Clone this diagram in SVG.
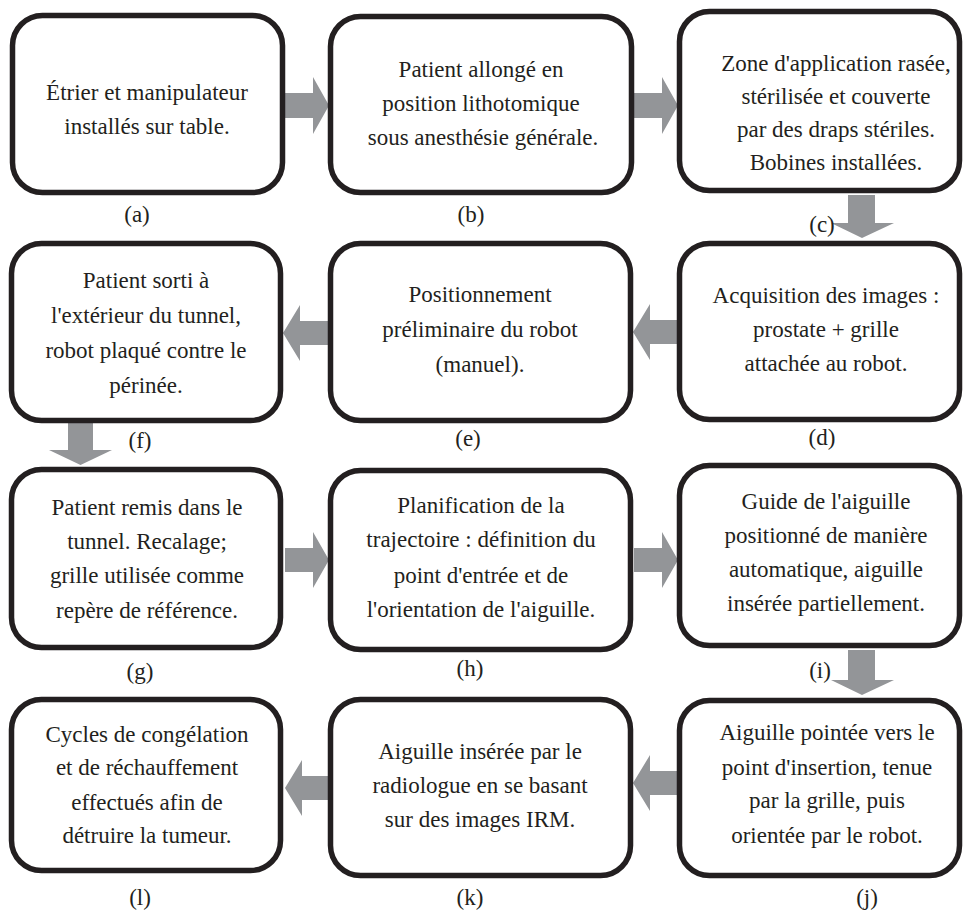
<svg xmlns="http://www.w3.org/2000/svg" width="964" height="913" viewBox="0 0 964 913">
<style>
.box{fill:#ffffff;stroke:#231f20;stroke-width:5.5}
.t{font-family:'Liberation Serif','Times New Roman',serif;font-size:23px;fill:#231f20;text-anchor:middle}
.arr{fill:#939598}
</style>
<rect width="964" height="913" fill="#ffffff"/>
<g id="connectors">
<polygon class="arr" points="285,93 313,93 313,77 329,105.5 313,134 313,118 285,118"/>
<polygon class="arr" points="634,93 662,93 662,77 678,105.5 662,134 662,118 634,118"/>
<polygon class="arr" points="848,195 875,195 875,223 894,223 862,238 831,223 848,223"/>
<polygon class="arr" points="677,320 650,320 650,304 633,332 650,360 650,344 677,344"/>
<polygon class="arr" points="328,321 300,321 300,305 283,333 300,361 300,345 328,345"/>
<polygon class="arr" points="68,423 93,423 93,450 112,450 80.5,465 49,450 68,450"/>
<polygon class="arr" points="285,548 313,548 313,532 329,560 313,588 313,572 285,572"/>
<polygon class="arr" points="634,548 662,548 662,532 678,560 662,588 662,572 634,572"/>
<polygon class="arr" points="848,650 875,650 875,680 894,680 862,695 831,680 848,680"/>
<polygon class="arr" points="677,771 650,771 650,755 633,783 650,811 650,795 677,795"/>
<polygon class="arr" points="330,776 302,776 302,760 285,788 302,816 302,800 330,800"/>
</g>
<g id="node-a">
<rect class="box" x="12.5" y="15.5" width="270" height="177" rx="30"/>
<text class="t" x="147" y="100">Étrier et manipulateur</text>
<text class="t" x="147" y="134">installés sur table.</text>
<text class="t" x="137" y="222">(a)</text>
</g>
<g id="node-b">
<rect class="box" x="330.5" y="16.5" width="301" height="176" rx="30"/>
<text class="t" x="481" y="77">Patient allongé en</text>
<text class="t" x="481" y="111">position lithotomique</text>
<text class="t" x="483" y="145">sous anesthésie générale.</text>
<text class="t" x="471" y="222">(b)</text>
</g>
<g id="node-c">
<rect class="box" x="679.5" y="11.5" width="280" height="179" rx="30"/>
<text class="t" x="836" y="71">Zone d'application rasée,</text>
<text class="t" x="836" y="104">stérilisée et couverte</text>
<text class="t" x="836" y="137">par des draps stériles.</text>
<text class="t" x="836" y="170">Bobines installées.</text>
<text class="t" x="822" y="232">(c)</text>
</g>
<g id="node-d">
<rect class="box" x="679.5" y="243.5" width="280" height="176" rx="30"/>
<text class="t" x="826" y="303">Acquisition des images :</text>
<text class="t" x="826" y="337">prostate + grille</text>
<text class="t" x="826" y="371">attachée au robot.</text>
<text class="t" x="822" y="445">(d)</text>
</g>
<g id="node-e">
<rect class="box" x="330.5" y="243.5" width="300" height="177" rx="30"/>
<text class="t" x="480" y="302">Positionnement</text>
<text class="t" x="480" y="337">préliminaire du robot</text>
<text class="t" x="480" y="372">(manuel).</text>
<text class="t" x="468" y="446">(e)</text>
</g>
<g id="node-f">
<rect class="box" x="11.5" y="243.5" width="269" height="177" rx="30"/>
<text class="t" x="146" y="288">Patient sorti à</text>
<text class="t" x="146" y="323">l'extérieur du tunnel,</text>
<text class="t" x="146" y="358">robot plaqué contre le</text>
<text class="t" x="146" y="393">périnée.</text>
<text class="t" x="140" y="448">(f)</text>
</g>
<g id="node-g">
<rect class="box" x="11.5" y="469.5" width="269" height="178" rx="30"/>
<text class="t" x="147" y="515">Patient remis dans le</text>
<text class="t" x="147" y="549">tunnel. Recalage;</text>
<text class="t" x="147" y="583">grille utilisée comme</text>
<text class="t" x="147" y="618">repère de référence.</text>
<text class="t" x="140" y="679">(g)</text>
</g>
<g id="node-h">
<rect class="box" x="330.5" y="470.5" width="300" height="179" rx="30"/>
<text class="t" x="481" y="513">Planification de la</text>
<text class="t" x="481" y="547">trajectoire : définition du</text>
<text class="t" x="481" y="583">point d'entrée et de</text>
<text class="t" x="481" y="617">l'orientation de l'aiguille.</text>
<text class="t" x="470" y="676">(h)</text>
</g>
<g id="node-i">
<rect class="box" x="679.5" y="465.5" width="280" height="180" rx="30"/>
<text class="t" x="826" y="509">Guide de l'aiguille</text>
<text class="t" x="826" y="543">positionné de manière</text>
<text class="t" x="826" y="577">automatique, aiguille</text>
<text class="t" x="826" y="611">insérée partiellement.</text>
<text class="t" x="820" y="678">(i)</text>
</g>
<g id="node-j">
<rect class="box" x="679.5" y="700.5" width="280" height="175" rx="30"/>
<text class="t" x="827" y="740">Aiguille pointée vers le</text>
<text class="t" x="827" y="775">point d'insertion, tenue</text>
<text class="t" x="827" y="808">par la grille, puis</text>
<text class="t" x="827" y="843">orientée par le robot.</text>
<text class="t" x="867" y="905">(j)</text>
</g>
<g id="node-k">
<rect class="box" x="330.5" y="699.5" width="300" height="176" rx="30"/>
<text class="t" x="480" y="759">Aiguille insérée par le</text>
<text class="t" x="480" y="793">radiologue en se basant</text>
<text class="t" x="480" y="827">sur des images IRM.</text>
<text class="t" x="470" y="905">(k)</text>
</g>
<g id="node-l">
<rect class="box" x="11.5" y="699.5" width="269" height="171" rx="30"/>
<text class="t" x="147" y="742">Cycles de congélation</text>
<text class="t" x="147" y="775">et de réchauffement</text>
<text class="t" x="147" y="810">effectués afin de</text>
<text class="t" x="147" y="843">détruire la tumeur.</text>
<text class="t" x="140" y="905">(l)</text>
</g>
</svg>
